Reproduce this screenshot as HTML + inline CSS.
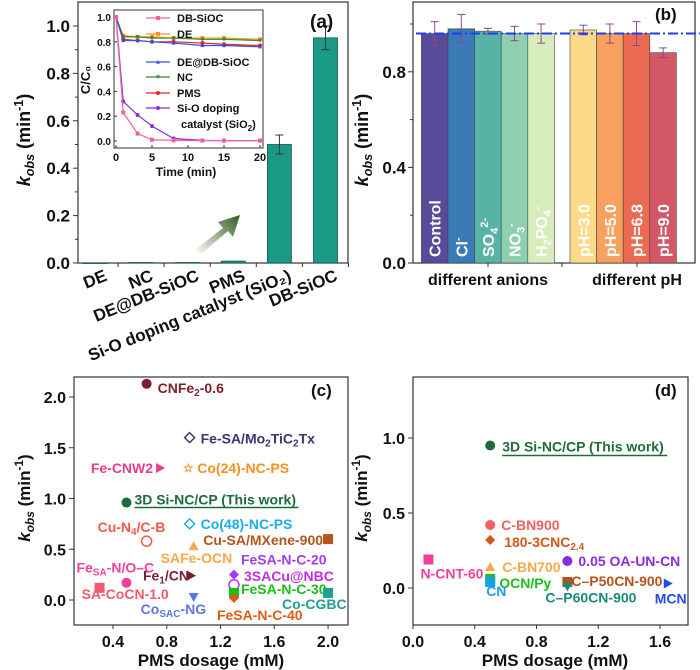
<!DOCTYPE html>
<html><head><meta charset="utf-8"><style>
html,body{margin:0;padding:0;background:#fff;}
svg{display:block;font-family:"Liberation Sans",Arial,sans-serif;font-weight:bold;}
</style></head><body>
<svg id="fig" width="700" height="670" viewBox="0 0 700 670" xmlns="http://www.w3.org/2000/svg">
<defs>
<linearGradient id="arrowGrad" x1="0" y1="1" x2="1" y2="0">
<stop offset="0" stop-color="#ffffff"/><stop offset="1" stop-color="#2f5a1f"/>
</linearGradient>
</defs>
</svg>
<script>
// ===== Panel (a) data =====
const aCats = ["DE","NC","DE@DB-SiOC","PMS","Si-O doping catalyst (SiO\u2082)","DB-SiOC"];
const aVals = [0, 0.002, 0.002, 0.008, 0.50, 0.95];
const aErrs = [0, 0, 0, 0, 0.04, 0.05];
const aTicks = [0, 0.2, 0.4, 0.6, 0.8, 1.0];
// inset
const insTimes = [0,1,3,5,8,12,15,20];
const insNames = ["DB-SiOC","DE","DE@DB-SiOC","NC","PMS","Si-O doping"];
const insDB = [1,0.23,0.06,0.01,0.005,0.003,0.003,0.003];
const insDE = [1,0.85,0.84,0.84,0.83,0.83,0.83,0.82];
const insDEDB = [1,0.81,0.81,0.80,0.79,0.77,0.77,0.76];
const insNC = [1,0.84,0.84,0.83,0.83,0.82,0.82,0.81];
const insPMS = [1,0.82,0.81,0.80,0.80,0.79,0.78,0.77];
const insSiO = [1,0.32,0.21,0.12,0.02,0.005,0.003,0.003];
const insXTicks = [0,5,10,15,20];
const insYTicks = [0,0.2,0.4,0.6,0.8,1.0];
// ===== Panel (b) data =====
const bCats = ["Control","Cl\u207B","SO4","NO3","H2PO4","pH=3.0","pH=5.0","pH=6.8","pH=9.0"];
const bVals = [0.96,0.98,0.97,0.96,0.96,0.975,0.96,0.96,0.88];
const bErrs = [0.05,0.06,0.012,0.03,0.04,0.02,0.04,0.05,0.02];
const bRef = 0.96;
const bTicks = [0,0.4,0.8];
// ===== Panel (c) data =====
const cNames = ["CNFe2-0.6","Fe-SA/Mo2TiC2Tx","Fe-CNW2","Co(24)-NC-PS","3D Si-NC/CP (This work)","Co(48)-NC-PS","Cu-N4/C-B","Cu-SA/MXene-900","SAFe-OCN","FeSA-N-C-20","3SACu@NBC","Fe1/CN","FeSA-N/O-C","SA-CoCN-1.0","CoSAC-NG","FeSA-N-C-30","Co-CGBC","FeSA-N-C-40"];
const cX = [0.65,0.97,0.75,0.96,0.50,0.97,0.65,2.0,1.0,1.30,1.30,0.98,0.50,0.30,1.0,1.30,2.0,1.30];
const cY = [2.13,1.60,1.30,1.30,0.96,0.75,0.58,0.60,0.53,0.25,0.15,0.24,0.17,0.12,0.03,0.07,0.07,0.02];
const cXTicks = [0.4,0.8,1.2,1.6,2.0];
const cYTicks = [0,0.5,1.0,1.5,2.0];
// ===== Panel (d) data =====
const dNames = ["3D Si-NC/CP (This work)","C-BN900","180-3CNC2.4","N-CNT-60","C-BN700","0.05 OA-UN-CN","OCN/Py","CN","C\u2013P50CN-900","C\u2013P60CN-900","MCN"];
const dX = [0.5,0.5,0.5,0.1,0.5,1.0,0.5,0.5,1.0,1.0,1.65];
const dY = [0.95,0.42,0.32,0.19,0.14,0.18,0.06,0.04,0.04,0.01,0.03];
const dXTicks = [0,0.4,0.8,1.2,1.6];
const dYTicks = [0,0.5,1.0];

const svg = document.getElementById('fig');
const NS = "http://www.w3.org/2000/svg";
function el(tag, attrs, parent){
  const e = document.createElementNS(NS, tag);
  for (const k in attrs) e.setAttribute(k, attrs[k]);
  (parent||svg).appendChild(e);
  return e;
}
function txt(x,y,s,size,opts,parent){
  opts = opts||{};
  const t = el('text',{x:x,y:y,'font-size':size,fill:opts.fill||'#111','text-anchor':opts.anchor||'start'},parent);
  if(opts.rot) t.setAttribute('transform','rotate('+opts.rot+' '+x+' '+y+')');
  if(opts.html) t.innerHTML = s; else t.textContent = s;
  return t;
}
function ylabel(x,y,size){
  const t = txt(x,y,'',size,{anchor:'middle',rot:-90,html:true});
  t.innerHTML = '<tspan font-style="italic">k</tspan><tspan font-style="italic" font-size="'+(size*0.7)+'" dy="4">obs</tspan><tspan dy="-4"> (min</tspan><tspan font-size="'+(size*0.7)+'" dy="-7">-1</tspan><tspan dy="7">)</tspan>';
  return t;
}
function marker(shape,x,y,r,color,g){
  let m;
  if(shape==='circle') m=el('circle',{cx:x,cy:y,r:r,fill:color},g);
  else if(shape==='square') m=el('rect',{x:x-r,y:y-r,width:2*r,height:2*r,fill:color},g);
  else if(shape==='tri') m=el('polygon',{points:(x)+','+(y-r)+' '+(x+r)+','+(y+r*0.8)+' '+(x-r)+','+(y+r*0.8),fill:color},g);
  else if(shape==='dtri') m=el('polygon',{points:(x)+','+(y+r)+' '+(x+r)+','+(y-r*0.8)+' '+(x-r)+','+(y-r*0.8),fill:color},g);
  else if(shape==='rtri') m=el('polygon',{points:(x+r)+','+y+' '+(x-r*0.8)+','+(y-r)+' '+(x-r*0.8)+','+(y+r),fill:color},g);
  else if(shape==='diamond') m=el('polygon',{points:x+','+(y-r)+' '+(x+r)+','+y+' '+x+','+(y+r)+' '+(x-r)+','+y,fill:color},g);
  else if(shape==='odiamond') m=el('polygon',{points:x+','+(y-r)+' '+(x+r)+','+y+' '+x+','+(y+r)+' '+(x-r)+','+y,fill:'#fff',stroke:color,'stroke-width':1.5},g);
  else if(shape==='ocircle') m=el('circle',{cx:x,cy:y,r:r,fill:'#fff',stroke:color,'stroke-width':1.5},g);
  else if(shape==='star') { m=txt(x,y+4,'\u2606',12,{fill:color,anchor:'middle'},g); }
  return m;
}

// ================= PANEL A =================
const gA = el('g',{});  
const aL=78,aR=348,aT=2,aB=263;
const ay = v => aB - v*237;
const ax = i => 95 + i*46.1;
el('rect',{x:aL,y:aT,width:aR-aL,height:aB-aT,fill:'none',stroke:'#333','stroke-width':1.2},gA);
aTicks.forEach(v=>{
  el('line',{x1:aL-5,x2:aL,y1:ay(v),y2:ay(v),stroke:'#333'},gA);
  txt(aL-8,ay(v)+6,v.toFixed(1),17,{anchor:'end'},gA);
});
for(let v=0.1;v<1.05;v+=0.2) el('line',{x1:aL-3,x2:aL,y1:ay(v),y2:ay(v),stroke:'#333'},gA);
aCats.forEach((c,i)=>{
  const x=ax(i);
  const h=aVals[i]*237;
  const b=el('rect',{x:x-12,y:ay(aVals[i]),width:24,height:Math.max(h,0.5),fill:'#1a9985',stroke:'#0d5a4d','stroke-width':0.8},gA);
   
  if(aErrs[i]>0){
    el('line',{x1:x,x2:x,y1:ay(aVals[i]+aErrs[i]),y2:ay(aVals[i]-aErrs[i]),stroke:'#333'},gA);
    el('line',{x1:x-4,x2:x+4,y1:ay(aVals[i]+aErrs[i]),y2:ay(aVals[i]+aErrs[i]),stroke:'#333'},gA);
    el('line',{x1:x-4,x2:x+4,y1:ay(aVals[i]-aErrs[i]),y2:ay(aVals[i]-aErrs[i]),stroke:'#333'},gA);
  }
  el('line',{x1:x+23,x2:x+23,y1:aB,y2:aB+4,stroke:'#333'},gA);
  const t=txt(x+13,aB+17,c,17,{anchor:'end',rot:-22},gA);
   
});
ylabel(30,140,18);
txt(310,28,'(a)',19,{},gA);
el('polygon',{points:'195,250 223,228 218,222 240,215 233,237 228,231 201,254',fill:'url(#arrowGrad)'},gA);
// inset
const iL=114,iR=263,iT=10,iB=148;
const ix = t => 116 + t*7.2;
const iy = v => 141 - v*124;
el('rect',{x:iL,y:iT,width:iR-iL,height:iB-iT,fill:'#fff',stroke:'#333'},gA);
insXTicks.forEach(t=>{ el('line',{x1:ix(t),x2:ix(t),y1:iB,y2:iB-3,stroke:'#333'},gA); txt(ix(t),iB+13,String(t),11,{anchor:'middle'},gA);});
insYTicks.forEach(v=>{ el('line',{x1:iL,x2:iL+3,y1:iy(v),y2:iy(v),stroke:'#333'},gA); txt(iL-3,iy(v)+4,v.toFixed(1),10,{anchor:'end'},gA);});
txt(186,176,'Time (min)',12,{anchor:'middle'},gA);
txt(90,80,'C/C\u2080',13,{anchor:'middle',rot:-90},gA);
const insSeries=[[insDE,'#f7901e','square'],[insNC,'#2e8b2e','dtri'],[insPMS,'#e8202a','circle'],[insDEDB,'#3050e0','tri'],[insSiO,'#8a2be2','circle'],[insDB,'#f060a0','square']];
insSeries.forEach((s,k)=>{
  const pts=insTimes.map((t,i)=>ix(t)+','+iy(s[0][i])).join(' ');
  const pl=el('polyline',{points:pts,fill:'none',stroke:s[1],'stroke-width':1.2},gA);
   
  insTimes.forEach((t,i)=>marker(s[2],ix(t),iy(s[0][i]),2,s[1],gA));
});
const legRows=[['DB-SiOC','#f060a0','square',18],['DE','#f7901e','square',34],['DE@DB-SiOC','#3050e0','tri',62],['NC','#2e8b2e','dtri',77],['PMS','#e8202a','circle',93],['Si-O doping','#8a2be2','circle',108]];
legRows.forEach(r=>{
  el('line',{x1:146,x2:170,y1:r[3],y2:r[3],stroke:r[1],'stroke-width':1.2},gA);
  marker(r[2],158,r[3],2,r[1],gA);
  const t=txt(177,r[3]+4,r[0],11,{},gA);
   
});
txt(181,128,'catalyst (SiO<tspan font-size="8" dy="3">2</tspan><tspan dy="-3">)</tspan>',11,{html:true},gA);

// ================= PANEL B =================
const gB = el('g',{});  
const bL=413,bR=695,bT=2,bB=263;
const by = v => bB - v*239;
const bCenters = i => i<5 ? 434.7 + i*26.6 : 583.3 + (i-5)*26.6;
el('rect',{x:bL,y:bT,width:bR-bL,height:bB-bT,fill:'none',stroke:'#333','stroke-width':1.2},gB);
bTicks.forEach(v=>{ el('line',{x1:bL-5,x2:bL,y1:by(v),y2:by(v),stroke:'#333'},gB); txt(bL-7,by(v)+6,v.toFixed(1),17,{anchor:'end'},gB);});
[0.2,0.6,1.0].forEach(v=>el('line',{x1:bL-3,x2:bL,y1:by(v),y2:by(v),stroke:'#333'},gB));
const bCols=['#5a4a9a','#3a7ab6','#57b3a6','#8dcfae','#d6edbb','#fdd98a','#f8a15f','#ea6a52','#d25868'];
const bLab=['Control','Cl<tspan font-size="11" dy="-6">-</tspan>','SO<tspan font-size="11" dy="4">4</tspan><tspan font-size="11" dy="-10">2-</tspan>','NO<tspan font-size="11" dy="4">3</tspan><tspan font-size="11" dy="-10">-</tspan>','H<tspan font-size="11" dy="4">2</tspan><tspan dy="-4">PO</tspan><tspan font-size="11" dy="4">4</tspan><tspan font-size="11" dy="-10">-</tspan>','pH=3.0','pH=5.0','pH=6.8','pH=9.0'];
bCats.forEach((c,i)=>{
  const x=bCenters(i);
  const r=el('rect',{x:x-13.3,y:by(bVals[i]),width:26.6,height:bVals[i]*239,fill:bCols[i],stroke:'#444','stroke-width':0.6},gB);
   
  const e1=by(bVals[i]+bErrs[i]), e2=by(bVals[i]-bErrs[i]);
  el('line',{x1:x,x2:x,y1:e1,y2:e2,stroke:'#8a4a8a'},gB);
  el('line',{x1:x-4,x2:x+4,y1:e1,y2:e1,stroke:'#8a4a8a'},gB);
  el('line',{x1:x-4,x2:x+4,y1:e2,y2:e2,stroke:'#8a4a8a'},gB);
  txt(x+6,bB-6,bLab[i],16,{fill:'#fff',rot:-90,html:true},gB);
});
el('line',{x1:bL+3,x2:700,y1:by(bRef),y2:by(bRef),stroke:'#1f3cf0','stroke-width':2,'stroke-dasharray':'10,3,2,3'},gB);
[488,562,637].forEach(x=>el('line',{x1:x,x2:x,y1:bB,y2:bB+4,stroke:'#333'},gB));
txt(488,285,'different anions',16,{anchor:'middle'},gB);
txt(637,285,'different pH',16,{anchor:'middle'},gB);
ylabel(368,140,18);
txt(655,20,'(b)',17,{},gB);

// ================= PANEL C =================
const gC = el('g',{});  
const cL=74,cR=348,cT=377,cB=625;
const cx = v => 59.25 + v*134.4;
const cy = v => 600 - v*101.5;
el('rect',{x:cL,y:cT,width:cR-cL,height:cB-cT,fill:'none',stroke:'#333','stroke-width':1.2},gC);
cXTicks.forEach(v=>{ el('line',{x1:cx(v),x2:cx(v),y1:cB,y2:cB+4,stroke:'#333'},gC); txt(cx(v),cB+22,v.toFixed(1),16,{anchor:'middle'},gC);});
cYTicks.forEach(v=>{ el('line',{x1:cL-5,x2:cL,y1:cy(v),y2:cy(v),stroke:'#333'},gC); txt(cL-8,cy(v)+6,v.toFixed(1),16,{anchor:'end'},gC);});
txt(211,666,'PMS dosage (mM)',17,{anchor:'middle'},gC);
ylabel(30,498,17);
txt(311,396,'(c)',17,{},gC);
const cCols=['#7a1f2e','#3b3570','#ee3a8c','#f7901e','#1d6b3a','#18aeea','#f05a4a','#b5531a','#f7a84a','#a23cf0','#c030e0','#7a1f2e','#f0409a','#f05a70','#5a78e0','#18c018','#20a090','#e05a18'];
const cShapes=['circle','odiamond','rtri','star','circle','odiamond','ocircle','square','tri','diamond','ocircle','rtri','circle','square','dtri','square','square','diamond'];
const cLabDx=[11,11,-7,9,8,11,-49,-5,-33,7,10,-48,-50,-18,-53,7,-46,-17];
const cLabDy=[9,6,5,5,2,5,-9,6,17,-10,-4,5,-10,11,17,1,16,22];
const cAnchor=['start','start','end','start','start','start','start','end','start','start','start','start','start','start','start','start','start','start'];
const cHtml=['CNFe<tspan font-size="10" dy="3">2</tspan><tspan dy="-3">-0.6</tspan>','Fe-SA/Mo<tspan font-size="10" dy="3">2</tspan><tspan dy="-3">TiC</tspan><tspan font-size="10" dy="3">2</tspan><tspan dy="-3">Tx</tspan>','Fe-CNW2','Co(24)-NC-PS','3D Si-NC/CP (This work)','Co(48)-NC-PS','Cu-N<tspan font-size="10" dy="3">4</tspan><tspan dy="-3">/C-B</tspan>','Cu-SA/MXene-900','SAFe-OCN','FeSA-N-C-20','3SACu@NBC','Fe<tspan font-size="10" dy="3">1</tspan><tspan dy="-3">/CN</tspan>','Fe<tspan font-size="10" dy="3">SA</tspan><tspan dy="-3">-N/O\u2013C</tspan>','SA-CoCN-1.0','Co<tspan font-size="10" dy="3">SAC</tspan><tspan dy="-3">-NG</tspan>','FeSA-N-C-30','Co-CGBC','FeSA-N-C-40'];
cNames.forEach((n,i)=>{
  const px=cx(cX[i]), py=cy(cY[i]);
  const m=marker(cShapes[i],px,py,5,cCols[i],gC);
   
  const t=txt(px+cLabDx[i],py+cLabDy[i],cHtml[i],14,{fill:cCols[i],anchor:cAnchor[i],html:true},gC);
   
  if(i===4){ el('line',{x1:px+8,x2:px+172,y1:py+5,y2:py+5,stroke:cCols[i],'stroke-width':1.5},gC); }
});

// ================= PANEL D =================
const gD = el('g',{});  
const dL=413,dR=688,dT=377,dB=625;
const dx = v => 413 + v*154.4;
const dy = v => 588 - v*150;
el('rect',{x:dL,y:dT,width:dR-dL,height:dB-dT,fill:'none',stroke:'#333','stroke-width':1.2},gD);
dXTicks.forEach(v=>{ el('line',{x1:dx(v),x2:dx(v),y1:dB,y2:dB+4,stroke:'#333'},gD); txt(dx(v),dB+22,v.toFixed(1),16,{anchor:'middle'},gD);});
dYTicks.forEach(v=>{ el('line',{x1:dL-5,x2:dL,y1:dy(v),y2:dy(v),stroke:'#333'},gD); txt(dL-8,dy(v)+6,v.toFixed(1),16,{anchor:'end'},gD);});
txt(555,666,'PMS dosage (mM)',17,{anchor:'middle'},gD);
ylabel(367,498,17);
txt(655,396,'(d)',17,{},gD);
const dCols=['#1d6b3a','#f06060','#d0581a','#f0409a','#f7a84a','#8a2be2','#18c018','#18a0e8','#b5531a','#1a8a7a','#1f4cf0'];
const dShapes=['circle','circle','diamond','square','tri','circle','square','square','square','dtri','rtri'];
const dLabDx=[12,11,14,-8,12,11,9,-4,4,-22,-13];
const dLabDy=[6,5,7,19,5,5,9,14,4,16,20];
const dHtml=['3D Si-NC/CP (This work)','C-BN900','180-3CNC<tspan font-size="10" dy="3">2.4</tspan>','N-CNT-60','C-BN700','0.05 OA-UN-CN','OCN/Py','CN','C\u2013P50CN-900','C\u2013P60CN-900','MCN'];
dNames.forEach((n,i)=>{
  const px=dx(dX[i]), py=dy(dY[i]);
  const m=marker(dShapes[i],px,py,5,dCols[i],gD);
   
  const t=txt(px+dLabDx[i],py+dLabDy[i],dHtml[i],14,{fill:dCols[i],html:true},gD);
   
  if(i===0){ el('line',{x1:px+12,x2:px+177,y1:py+10,y2:py+10,stroke:dCols[i],'stroke-width':1.5},gD); }
});
</script>
</body></html>
